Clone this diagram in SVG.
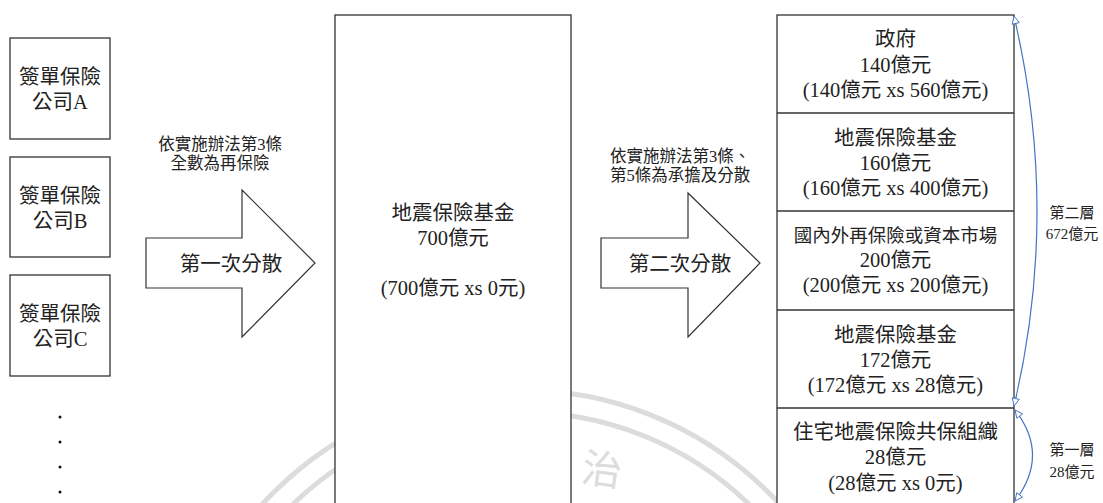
<svg xmlns="http://www.w3.org/2000/svg" width="1103" height="503" viewBox="0 0 1103 503">
<style>
.box{fill:#fff;stroke:#333;stroke-width:1.3}
.arr{fill:#fff;stroke:#333;stroke-width:1.2}
.t{font-family:"Liberation Serif","Noto Sans CJK TC",serif;font-size:20.5px;fill:#222;text-anchor:middle}
.s{font-family:"Liberation Serif","Noto Sans CJK TC",serif;font-size:16.5px;fill:#222;text-anchor:middle}
.m{font-family:"Liberation Serif","Noto Sans CJK TC",serif;font-size:15px;fill:#222;text-anchor:middle}
.wm{fill:none;stroke:#dcdcdc;stroke-width:5}
.bl{fill:none;stroke:#4472c4;stroke-width:1.2}
</style>
<defs>
<marker id="oa" viewBox="0 0 10 10" refX="9.5" refY="5" markerWidth="10" markerHeight="9" markerUnits="userSpaceOnUse" orient="auto-start-reverse">
<path d="M1,1 L9.5,5 L1,9 Z" fill="#fff" stroke="#4472c4" stroke-width="1"/>
</marker>
</defs>
<rect width="1103" height="503" fill="#fff"/>
<g id="watermark">
<circle class="wm" cx="521" cy="740" r="350"/>
<circle class="wm" cx="521" cy="740" r="328"/>
<text x="602" y="484" font-family="Noto Sans CJK TC,sans-serif" font-size="40" fill="#dcdcdc" text-anchor="middle" transform="rotate(8 602 470)">治</text>
</g>
<g id="companyA"><rect class="box" x="10" y="38" width="100" height="101"/><text class="t" x="60" y="84">簽單保險</text><text class="t" x="60" y="109">公司A</text></g>
<g id="companyB"><rect class="box" x="10" y="157" width="100" height="100"/><text class="t" x="60" y="203">簽單保險</text><text class="t" x="60" y="228">公司B</text></g>
<g id="companyC"><rect class="box" x="10" y="275" width="100" height="101"/><text class="t" x="60" y="321">簽單保險</text><text class="t" x="60" y="346">公司C</text></g>
<g id="dots" fill="#111"><circle cx="60" cy="417" r="1.5"/><circle cx="60" cy="442" r="1.5"/><circle cx="60" cy="467" r="1.5"/><circle cx="60" cy="492" r="1.5"/></g>
<g id="arrow1"><text class="s" x="220" y="150">依實施辦法第3條</text><text class="s" x="220" y="169">全數為再保險</text><path class="arr" d="M146,238 L242,238 L242,190 L315,263 L242,337 L242,288 L146,288 Z"/><text class="t" x="231" y="271">第一次分散</text></g>
<g id="fund"><rect class="box" x="335" y="15" width="236" height="500"/><text class="t" x="453" y="220">地震保險基金</text><text class="t" x="453" y="245">700億元</text><text class="t" x="453" y="295">(700億元 xs 0元)</text></g>
<g id="arrow2"><text class="s" x="680" y="162">依實施辦法第3條、</text><text class="s" x="680" y="181">第5條為承擔及分散</text><path class="arr" d="M601,238 L688,238 L688,193 L760,263 L688,337 L688,288 L601,288 Z"/><text class="t" x="680" y="271">第二次分散</text></g>
<g id="layers">
<rect class="box" x="777" y="15" width="237" height="500"/>
<line class="box" x1="777" y1="113" x2="1014" y2="113"/>
<line class="box" x1="777" y1="211" x2="1014" y2="211"/>
<line class="box" x1="777" y1="310" x2="1014" y2="310"/>
<line class="box" x1="777" y1="408" x2="1014" y2="408"/>
<g id="layer1"><text class="t" x="895.5" y="46">政府</text><text class="t" x="895.5" y="72">140億元</text><text class="t" x="895.5" y="97">(140億元 xs 560億元)</text></g>
<g id="layer2"><text class="t" x="895.5" y="145">地震保險基金</text><text class="t" x="895.5" y="170">160億元</text><text class="t" x="895.5" y="195">(160億元 xs 400億元)</text></g>
<g id="layer3"><text class="t" x="895.5" y="242" style="font-size:18.5px">國內外再保險或資本市場</text><text class="t" x="895.5" y="267">200億元</text><text class="t" x="895.5" y="292">(200億元 xs 200億元)</text></g>
<g id="layer4"><text class="t" x="895.5" y="342">地震保險基金</text><text class="t" x="895.5" y="367">172億元</text><text class="t" x="895.5" y="392">(172億元 xs 28億元)</text></g>
<g id="layer5"><text class="t" x="895.5" y="439">住宅地震保險共保組織</text><text class="t" x="895.5" y="464">28億元</text><text class="t" x="895.5" y="490">(28億元 xs 0元)</text></g>
</g>
<g id="connectors">
<path class="bl" d="M1014,406 Q1060,212 1014,16" marker-start="url(#oa)" marker-end="url(#oa)"/>
<path class="bl" d="M1015,501 Q1050,455 1015,410" marker-start="url(#oa)" marker-end="url(#oa)"/>
</g>
<g id="tier-labels">
<text class="m" x="1072" y="218">第二層</text><text class="m" x="1072" y="239">672億元</text>
<text class="m" x="1072" y="455">第一層</text><text class="m" x="1072" y="477">28億元</text>
</g>
</svg>
